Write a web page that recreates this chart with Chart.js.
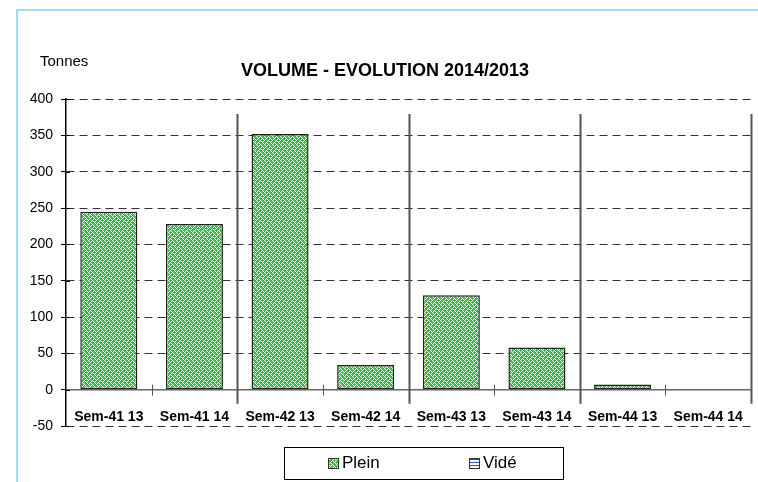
<!DOCTYPE html>
<html>
<head>
<meta charset="utf-8">
<script src="https://cdn.jsdelivr.net/npm/chart.js@4.4.0/dist/chart.umd.min.js"></script>
<style>
  html, body { margin: 0; padding: 0; background: #fff; }
  #wrap { position: relative; width: 758px; height: 482px; }
</style>
</head>
<body>
<div id="wrap"><canvas id="volumeChart" width="758" height="482"></canvas></div>
<script>
// chart data
var categories = ['Sem-41 13', 'Sem-41 14', 'Sem-42 13', 'Sem-42 14', 'Sem-43 13', 'Sem-43 14', 'Sem-44 13', 'Sem-44 14'];
var plein = [245, 228, 352, 34, 130, 58, 7, 0];
var vide = [0, 0, 0, 0, 0, 0, 0, 0];
var seriesNames = ['Plein', 'Vidé'];
var yMin = -50, yMax = 400, yStep = 50;
var chartTitle = 'VOLUME - EVOLUTION 2014/2013';
var unitLabel = 'Tonnes';

var FONT = "'Liberation Sans', Arial, sans-serif";

// green "weave" fill like the excel hatch
const makeWeave = () => {
  var c = document.createElement('canvas');
  c.width = 8; c.height = 8;
  var g = c.getContext('2d');
  g.fillStyle = '#ffffff';
  g.fillRect(0, 0, 8, 8);
  var rows = [
    '01110111',
    '10101011',
    '11011101',
    '10111010',
    '01110111',
    '11101010',
    '11011101',
    '10101110'
  ];
  g.fillStyle = '#3dbb3d';
  rows.forEach((r, yy) => {
    for (var xx = 0; xx < 8; xx++) {
      if (r[xx] === '1') g.fillRect(xx, yy, 1, 1);
    }
  });
  return g.createPattern(c, 'repeat');
}

const makeLines = () => {
  var c = document.createElement('canvas');
  c.width = 4; c.height = 3;
  var g = c.getContext('2d');
  g.fillStyle = '#ffffff';
  g.fillRect(0, 0, 4, 3);
  g.fillStyle = '#2d4fd6';
  g.fillRect(0, 0, 4, 1);
  return g.createPattern(c, 'repeat');
}

var weave = makeWeave();
var hLines = makeLines();

const decorations = {
  id: 'decorations',
  beforeDraw(chart) {
    var ctx = chart.ctx;
    ctx.save();
    ctx.strokeStyle = '#8ccfee';
    ctx.lineWidth = 1.5;
    ctx.beginPath();
    ctx.moveTo(17, chart.height);
    ctx.lineTo(17, 10);
    ctx.lineTo(chart.width, 10);
    ctx.stroke();
    ctx.restore();
  },
  afterDraw(chart) {
    var ctx = chart.ctx;
    var x = chart.scales.x, y = chart.scales.y;
    var zero = y.getPixelForValue(0);
    ctx.save();

    // group separators + small ticks on the category axis
    for (var i = 1; i <= categories.length; i++) {
      var bx = Math.round(x.getPixelForValue(i - 0.5)) + 0.5;
      ctx.beginPath();
      if (i % 2 === 0) {
        ctx.strokeStyle = '#555';
        ctx.lineWidth = 2;
        ctx.moveTo(bx, 114);
        ctx.lineTo(bx, zero + 14);
      } else {
        ctx.strokeStyle = '#555';
        ctx.lineWidth = 1;
        ctx.moveTo(bx, zero - 5);
        ctx.lineTo(bx, zero + 6);
      }
      ctx.stroke();
    }

    // inner half of the value axis ticks
    ctx.strokeStyle = '#000';
    ctx.lineWidth = 1;
    y.ticks.forEach(t => {
      var py = Math.round(y.getPixelForValue(t.value)) + 0.5;
      ctx.beginPath();
      ctx.moveTo(y.right, py);
      ctx.lineTo(y.right + 4, py);
      ctx.stroke();
    });

    // unit label
    ctx.fillStyle = '#000';
    ctx.font = '15px ' + FONT;
    ctx.textAlign = 'left';
    ctx.textBaseline = 'middle';
    ctx.fillText(unitLabel, 40, 62);

    // legend box
    var lx = 284, ly = 447, lw = 279, lh = 32;
    ctx.strokeStyle = '#000';
    ctx.lineWidth = 1;
    ctx.strokeRect(lx + 0.5, ly + 0.5, lw, lh);
    var items = [
      { text: seriesNames[0], fill: weave, sx: 328 },
      { text: seriesNames[1], fill: hLines, sx: 469 }
    ];
    ctx.font = '17px ' + FONT;
    items.forEach(it => {
      ctx.fillStyle = it.fill;
      ctx.fillRect(it.sx, 458, 11, 11);
      ctx.strokeStyle = '#333';
      ctx.strokeRect(it.sx + 0.5, 458.5, 10, 10);
      ctx.fillStyle = '#000';
      ctx.fillText(it.text, it.sx + 14, 463.5);
    });

    ctx.restore();
  }
};

document.addEventListener('DOMContentLoaded', () => {
  var ctx = document.getElementById('volumeChart');
  var options = {
    type: 'bar',
    data: {
      labels: categories,
      datasets: [{
        label: seriesNames[0],
        data: plein,
        backgroundColor: weave,
        borderColor: '#222',
        borderWidth: 1.5,
        borderSkipped: false
      }, {
        label: seriesNames[1],
        data: vide,
        backgroundColor: hLines,
        borderColor: '#222',
        borderWidth: 0
      }]
    },
    options: {
      responsive: false,
      animation: false,
      events: [],
      layout: { padding: { left: 19, top: 12, right: 7, bottom: 56 } },
      datasets: {
        bar: { grouped: false, barPercentage: 0.666, categoryPercentage: 1 }
      },
      scales: {
        x: {
          position: { y: 0 },
          grid: { display: false },
          border: { color: '#666', width: 1.5 },
          ticks: {
            color: '#000',
            padding: 11,
            maxRotation: 0,
            autoSkip: false,
            font: { family: FONT, size: 14, weight: 'bold' }
          }
        },
        y: {
          min: yMin,
          max: yMax,
          ticks: {
            stepSize: yStep,
            color: '#000',
            padding: 8,
            font: { family: FONT, size: 14 }
          },
          grid: {
            color: (c) => (c.tick && c.tick.value === 0) ? 'rgba(0,0,0,0)' : '#333',
            lineWidth: 1,
            tickLength: 5,
            tickColor: '#000',
            tickWidth: 1,
            tickBorderDash: []
          },
          border: { color: '#000', width: 1.5, dash: [8, 5] },
          afterFit: (scale) => { scale.width = 47; }
        }
      },
      plugins: {
        legend: { display: false },
        tooltip: { enabled: false },
        title: {
          display: true,
          text: chartTitle,
          color: '#000',
          font: { family: FONT, size: 18, weight: 'bold' },
          padding: { top: 48, bottom: 17.4 }
        }
      }
    },
    plugins: [decorations]
  };

  new Chart(ctx, options);
});
</script>
</body>
</html>
